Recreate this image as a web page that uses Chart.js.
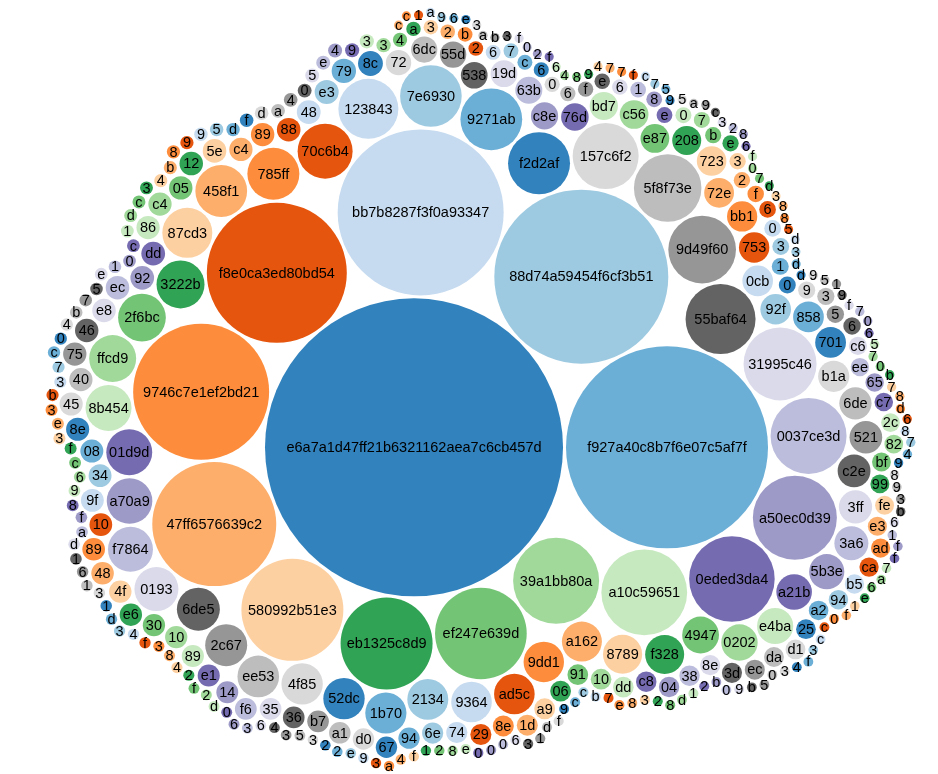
<!DOCTYPE html>
<html>
<head>
<meta charset="utf-8">
<script src="https://cdn.jsdelivr.net/npm/chart.js@4.4.1/dist/chart.umd.min.js"></script>
<style>
  html, body { margin: 0; padding: 0; background: #fff; }
  #wrap { width: 938px; height: 774px; }
</style>
</head>
<body>
<div id="wrap"><canvas id="myChart" width="938" height="774"></canvas></div>
<script>
// labels as shown in each circle, in packing order (largest first)
const names = [
  "e6a7a1d47ff21b6321162aea7c6cb457d", "f927a40c8b7f6e07c5af7f", "88d74a59454f6cf3b51", "bb7b8287f3f0a93347",
  "f8e0ca3ed80bd54", "9746c7e1ef2bd21", "47ff6576639c2", "580992b51e3", "eb1325c8d9", "ef247e639d",
  "39a1bb80a", "a10c59651", "0eded3da4", "a50ec0d39", "0037ce3d", "31995c46", "55baf64", "9d49f60", "5f8f73e", "157c6f2",
  "f2d2af", "9271ab", "7e6930", "123843", "70c6b4", "785ff", "458f1", "87cd3", "3222b", "2f6bc",
  "ffcd9", "8b454", "01d9d", "a70a9", "f7864", "0193", "6de5", "2c67", "ee53", "4f85",
  "52dc", "1b70", "2134", "9364", "ad5c", "9dd1", "a162", "8789", "f328", "4947",
  "0202", "e4ba", "a21b", "5b3e", "3a6", "3ff", "c2e", "521", "6de", "b1a",
  "701", "858", "92f", "0cb", "753", "bb1", "72e", "723", "208", "e87",
  "c56", "bd7", "76d", "c8e", "63b", "19d", "538", "55d", "6dc", "72",
  "8c", "79", "e3", "48", "88", "89", "c4", "5e", "12", "05",
  "c4", "86", "dd", "92", "ec", "e8", "46", "75", "40", "45",
  "8e", "08", "34", "9f", "10", "89", "48", "4f", "e6", "30",
  "10", "89", "e1", "14", "f6", "35", "36", "b7", "a1", "d0",
  "67", "94", "6e", "74", "29", "8e", "1d", "a9", "06", "91",
  "10", "dd", "c8", "04", "38", "8e", "3d", "ec", "da", "d1",
  "25", "a2", "94", "b5", "ca", "ad", "e3", "fe", "99", "bf",
  "82", "2c", "c7", "65", "ee", "c6", "6", "5", "3", "9",
  "0", "1", "3", "0", "6", "f", "2", "3", "e", "b",
  "7", "0", "e", "8", "1", "6", "e", "f", "6", "0",
  "6", "c", "7", "6", "2", "b", "2", "3", "a", "4",
  "3", "3", "9", "4", "e", "5", "0", "4", "a", "d",
  "f", "d", "5", "9", "9", "8", "b", "4", "3", "c",
  "d", "1", "c", "0", "1", "e", "5", "7", "b", "4",
  "0", "c", "7", "3", "b", "3", "e", "3", "f", "c",
  "6", "9", "8", "f", "a", "d", "1", "6", "1", "3",
  "1", "d", "3", "4", "f", "3", "8", "4", "2", "f",
  "2", "d", "0", "6", "3", "6", "4", "3", "5", "3",
  "2", "2", "e", "9", "3", "a", "4", "f", "1", "2",
  "8", "e", "0", "0", "0", "6", "3", "1", "d", "f",
  "9", "c", "c", "b", "7", "e", "8", "3", "2", "8",
  "d", "1", "2", "b", "0", "9", "b", "5", "0", "3",
  "4", "f", "3", "c", "c", "0", "f", "1", "e", "6",
  "a", "7", "f", "f", "1", "6", "b", "3", "9", "8",
  "9", "4", "7", "8", "6", "d", "8", "7", "b", "0",
  "7", "5", "6", "0", "7", "f", "9", "1", "5", "9",
  "d", "d", "3", "d", "5", "8", "8", "3", "d", "7",
  "0", "f", "6", "8", "2", "3", "c", "9", "a", "5",
  "9", "5", "7", "c", "f", "7", "7", "4", "9", "8",
  "4", "6", "f", "2", "0", "f", "3", "b", "a", "3",
  "e", "6", "9", "a", "1", "c", "c", "d", "b", "2",
  "0", "5", "0", "8", "6", "d", "6"
];

// values read from circle areas, same order as names
const values = [
  22201, 10201, 7569, 6889, 4900, 4624, 3844, 2601, 2116, 2100,
  1849, 1840, 1830, 1764, 1444, 1332, 1225, 1145, 1140, 1089,
  961, 955, 950, 900, 756, 676, 670, 625, 576, 570,
  552, 529, 527, 520, 506, 484, 462, 441, 433, 428,
  428, 424, 420, 412, 412, 408, 400, 384, 380, 339,
  331, 328, 317, 310, 289, 276, 269, 267, 259, 243,
  237, 236, 235, 234, 231, 228, 222, 219, 210, 207,
  206, 199, 190, 185, 182, 180, 178, 174, 172, 161,
  154, 149, 144, 142, 139, 137, 135, 139, 138, 137,
  136, 135, 141, 140, 139, 138, 137, 136, 135, 134,
  133, 132, 131, 130, 129, 128, 127, 126, 125, 124,
  124, 123, 122, 120, 119, 118, 117, 117, 116, 115,
  114, 113, 112, 112, 111, 110, 110, 109, 108, 107,
  107, 106, 105, 104, 103, 102, 101, 100, 99, 98,
  97, 96, 95, 94, 93, 92, 91, 90, 90, 89,
  88, 87, 86, 85, 84, 83, 76, 75, 74, 73,
  72, 72, 71, 70, 69, 68, 67, 67, 66, 65,
  64, 64, 63, 62, 61, 60, 60, 59, 58, 58,
  57, 56, 56, 55, 54, 54, 53, 52, 52, 51,
  51, 50, 50, 49, 49, 48, 48, 47, 47, 46,
  46, 45, 45, 45, 44, 44, 43, 43, 42, 42,
  42, 41, 41, 40, 40, 40, 39, 39, 39, 38,
  38, 38, 37, 37, 37, 36, 36, 36, 36, 35,
  35, 35, 35, 34, 34, 34, 34, 33, 33, 33,
  33, 32, 32, 32, 32, 31, 31, 31, 31, 30,
  30, 30, 30, 30, 29, 29, 29, 29, 29, 28,
  28, 28, 28, 28, 27, 27, 27, 27, 27, 27,
  26, 26, 26, 26, 26, 26, 26, 26, 26, 26,
  25, 25, 25, 25, 25, 25, 25, 25, 25, 25,
  25, 25, 25, 24, 24, 24, 24, 24, 24, 24,
  24, 24, 24, 24, 24, 24, 23, 23, 23, 23,
  23, 23, 23, 23, 23, 23, 23, 23, 23, 23,
  22, 22, 22, 22, 22, 22, 22, 22, 22, 22,
  22, 22, 22, 22, 22, 22, 22, 22, 22, 22,
  21, 21, 21, 21, 21, 21, 21, 21, 21, 21,
  21, 21, 21, 21, 21, 21, 21, 21, 21, 21,
  21, 21, 21, 21, 21, 21, 21, 21, 21, 21,
  21, 21, 21, 21, 21, 21, 21, 21, 21, 21,
  21, 21, 21, 21, 21, 21, 21
];

const colors = [
  "#3182bd", "#6baed6", "#9ecae1", "#c6dbef", "#e6550d", "#fd8d3c", "#fdae6b", "#fdd0a2",
  "#31a354", "#74c476", "#a1d99b", "#c7e9c0", "#756bb1", "#9e9ac8", "#bcbddc", "#dadaeb",
  "#636363", "#969696", "#bdbdbd", "#d9d9d9"
];

const W = 938, H = 774;
const GAP = 3;                 // space between neighbouring circles
const CENTER = [480.5, 389.5]; // where the middle of the pack sits

// spiral front-chain packing, same steps as the old d3.layout.pack
function insertAfter(a, b) {
  const c = a.next;
  a.next = b; b.prev = a;
  b.next = c; c.prev = b;
}

function splice(a, b) {
  a.next = b; b.prev = a;
}

function intersects(a, b) {
  const dx = b.x - a.x, dy = b.y - a.y, dr = a.r + b.r;
  return 0.999 * dr * dr > dx * dx + dy * dy;
}

function placeNext(a, b, c) {
  let db = a.r + c.r;
  const dx = b.x - a.x, dy = b.y - a.y;
  if (db && (dx || dy)) {
    let da = b.r + c.r;
    const dc = dx * dx + dy * dy;
    da *= da;
    db *= db;
    const x = 0.5 + (db - da) / (2 * dc);
    const y = Math.sqrt(Math.max(0, 2 * da * (db + dc) - (db -= dc) * db - da * da)) / (2 * dc);
    c.x = a.x + x * dx + y * dy;
    c.y = a.y + x * dy - y * dx;
  } else {
    c.x = a.x + db;
    c.y = a.y;
  }
}

function packSiblings(nodes) {
  const n = nodes.length;
  let a, b, c, i, j, k;
  nodes.forEach(d => { d.next = d.prev = d; });
  a = nodes[0]; a.x = -a.r; a.y = 0;
  if (n > 1) {
    b = nodes[1]; b.x = b.r; b.y = 0;
    if (n > 2) {
      c = nodes[2];
      placeNext(a, b, c);
      insertAfter(a, c);
      a.prev = c;
      insertAfter(c, b);
      b = a.next;
      for (i = 3; i < n; i++) {
        placeNext(a, b, c = nodes[i]);
        let isect = 0, s1 = 1, s2 = 1;
        for (j = b.next; j !== b; j = j.next, s1++) {
          if (intersects(j, c)) { isect = 1; break; }
        }
        if (isect === 1) {
          for (k = a.prev; k !== j.prev; k = k.prev, s2++) {
            if (intersects(k, c)) break;
          }
        }
        if (isect) {
          if (s1 < s2 || (s1 === s2 && b.r < a.r)) splice(a, b = j);
          else splice(a = k, b);
          i--;
        } else {
          insertAfter(a, c);
          b = c;
        }
      }
    }
  }
}

function buildPoints() {
  const circles = values.map(v => ({ r: Math.sqrt(v) + GAP / 2 }));
  packSiblings(circles);
  let x0 = Infinity, x1 = -Infinity, y0 = Infinity, y1 = -Infinity;
  circles.forEach(c => {
    c.r -= GAP / 2;
    x0 = Math.min(x0, c.x - c.r); x1 = Math.max(x1, c.x + c.r);
    y0 = Math.min(y0, c.y - c.r); y1 = Math.max(y1, c.y + c.r);
  });
  const cx = (x0 + x1) / 2, cy = (y0 + y1) / 2;
  // pack runs with y pointing down, the chart axis points up
  return circles.map(c => ({ x: c.x - cx, y: cy - c.y, r: c.r }));
}

const labelPlugin = {
  id: "bubbleLabels",
  afterDatasetsDraw(chart) {
    const ctx = chart.ctx;
    const meta = chart.getDatasetMeta(0);
    ctx.save();
    ctx.font = '14.5px "Liberation Sans", Arial, sans-serif';
    ctx.fillStyle = "#000";
    ctx.textAlign = "center";
    ctx.textBaseline = "alphabetic";
    meta.data.forEach((pt, i) => {
      ctx.fillText(names[i], pt.x, pt.y + 14.5 * 0.33);
    });
    ctx.restore();
  }
};

function renderChart() {
  const ctx = document.getElementById("myChart");
  const points = buildPoints();
  new Chart(ctx, {
    type: "bubble",
    data: {
      labels: names,
      datasets: [{
        data: points,
        backgroundColor: points.map((p, i) => colors[i % colors.length]),
        borderWidth: 0,
        hoverBorderWidth: 0,
        hoverRadius: 0
      }]
    },
    options: {
      responsive: false,
      animation: false,
      events: [],
      layout: { padding: 0, autoPadding: false },
      plugins: { legend: { display: false }, tooltip: { enabled: false } },
      scales: {
        x: { type: "linear", display: false, bounds: "data", min: -CENTER[0], max: W - CENTER[0] },
        y: { type: "linear", display: false, bounds: "data", min: CENTER[1] - H, max: CENTER[1] }
      }
    },
    plugins: [labelPlugin]
  });
}

renderChart();
</script>
</body>
</html>
